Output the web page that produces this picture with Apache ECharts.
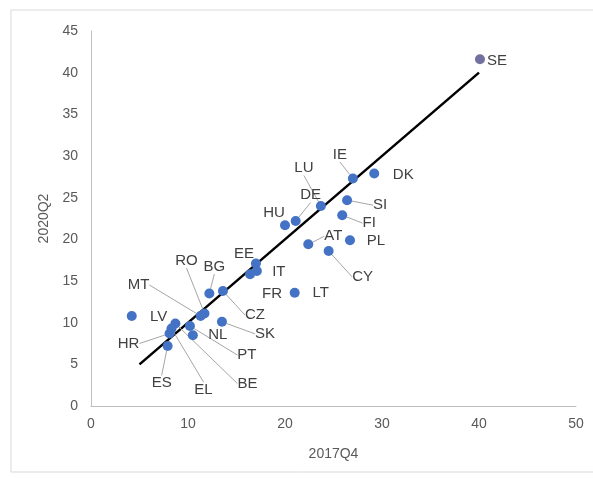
<!DOCTYPE html>
<html>
<head>
<meta charset="utf-8">
<script src="https://cdn.jsdelivr.net/npm/echarts@6/dist/echarts.min.js"></script>
<style>
html,body{margin:0;padding:0;background:#fff;}
#c{width:593px;height:478px;}
</style>
</head>
<body>
<div id="c"></div>
<script>
// ---- data ----
const countries = ['SE','DK','IE','LU','DE','SI','FI','HU','AT','PL','CY','EE','IT','FR','LT','RO','BG','MT','CZ','LV','SK','NL','HR','PT','BE','ES','EL'];
const x2017Q4 = [40.1,29.2,27.0,23.7,21.1,26.4,25.9,20.0,22.4,26.7,24.5,17.0,17.1,16.4,21.0,11.7,12.2,11.3,13.6,4.2,13.5,10.5,8.1,10.2,8.7,7.9,8.3];
const y2020Q2 = [41.6,27.9,27.3,24.0,22.2,24.7,22.9,21.7,19.4,19.9,18.6,17.1,16.2,15.8,13.6,11.1,13.5,10.8,13.8,10.8,10.1,8.5,8.7,9.6,9.9,7.2,9.3];
const trendX = [5, 40];
const trendY = [5, 40];
const xTicks = [0,10,20,30,40,50];
const yTicks = [0,5,10,15,20,25,30,35,40,45];

// ---- label styling (pixel offsets of label centre from the point) ----
const labelOffset = {
  SE:[17,2], DK:[29,1], IE:[-13,-24], LU:[-17,-38], DE:[15,-26], SI:[33,5], FI:[27,8],
  HU:[-11,-12], AT:[25,-8], PL:[26,1], CY:[34,26], EE:[-12,-10], IT:[22,1], FR:[22,20],
  LT:[26,0], RO:[-18,-53], BG:[5,-27], MT:[-62,-31], CZ:[32,24], LV:[27,1], SK:[43,12],
  NL:[25,0], HR:[-41,10], PT:[57,29], BE:[72,60], ES:[-6,37], EL:[32,61]
};
const withLeader = ['IE','LU','DE','SI','FI','AT','CY','RO','BG','MT','CZ','SK','HR','PT','BE','ES','EL'];
const specialColor = {SE:'#72709f'};

const FONT = '"Liberation Sans", Arial, sans-serif';
function build(leader){
  const d = [];
  countries.forEach((c,i)=>{
    if ((withLeader.indexOf(c) >= 0) !== leader) return;
    const item = {name:c, value:[x2017Q4[i], y2020Q2[i]]};
    if (specialColor[c]) item.itemStyle = {color: specialColor[c]};
    d.push(item);
  });
  return d;
}
function layoutFn(data){
  return function(p){
    const name = data[p.dataIndex].name;
    const o = labelOffset[name] || [0,0];
    return {dx:o[0], dy:o[1]};
  };
}
const dataLeader = build(true);
const dataPlain = build(false);

const scatterBase = {
  type:'scatter',
  symbolSize:10,
  itemStyle:{color:'#4472c4', opacity:1},
  label:{show:true, position:'inside', formatter:'{b}', color:'#404040', fontSize:15, fontFamily:FONT, align:'center', verticalAlign:'middle'},
  z:3
};

const chart = echarts.init(document.getElementById('c'));
chart.setOption({
  animation:false,
  backgroundColor:'#fff',
  graphic:[{type:'rect', shape:{x:11, y:10, width:600, height:462}, style:{fill:'none', stroke:'#d9d9d9', lineWidth:1}, z:-10}],
  grid:{left:91, right:17, top:31, bottom:72},
  xAxis:{
    type:'value', min:xTicks[0], max:xTicks[xTicks.length-1], interval:10,
    name:'2017Q4', nameLocation:'middle', nameGap:41,
    nameTextStyle:{color:'#595959', fontSize:14, fontFamily:FONT},
    axisLine:{show:true, lineStyle:{color:'#bfbfbf', width:1}},
    axisTick:{show:false}, splitLine:{show:false},
    axisLabel:{color:'#595959', fontSize:14, fontFamily:FONT, margin:11}
  },
  yAxis:{
    type:'value', min:yTicks[0], max:yTicks[yTicks.length-1], interval:5,
    name:'2020Q2', nameLocation:'middle', nameGap:39, nameRotate:90,
    nameTextStyle:{color:'#595959', fontSize:14, fontFamily:FONT},
    axisLine:{show:true, lineStyle:{color:'#bfbfbf', width:1}},
    axisTick:{show:false}, splitLine:{show:false},
    axisLabel:{color:'#595959', fontSize:14, fontFamily:FONT, margin:13}
  },
  series:[
    {type:'line', data:trendX.map((v,i)=>[v,trendY[i]]), symbol:'none', lineStyle:{color:'#000', width:2.5}, z:2, silent:true},
    Object.assign({}, scatterBase, {
      data:dataLeader,
      labelLine:{show:true, lineStyle:{color:'#a6a6a6', width:1}},
      labelLayout:layoutFn(dataLeader)
    }),
    Object.assign({}, scatterBase, {
      data:dataPlain,
      labelLayout:layoutFn(dataPlain)
    })
  ]
});
</script>
</body>
</html>
